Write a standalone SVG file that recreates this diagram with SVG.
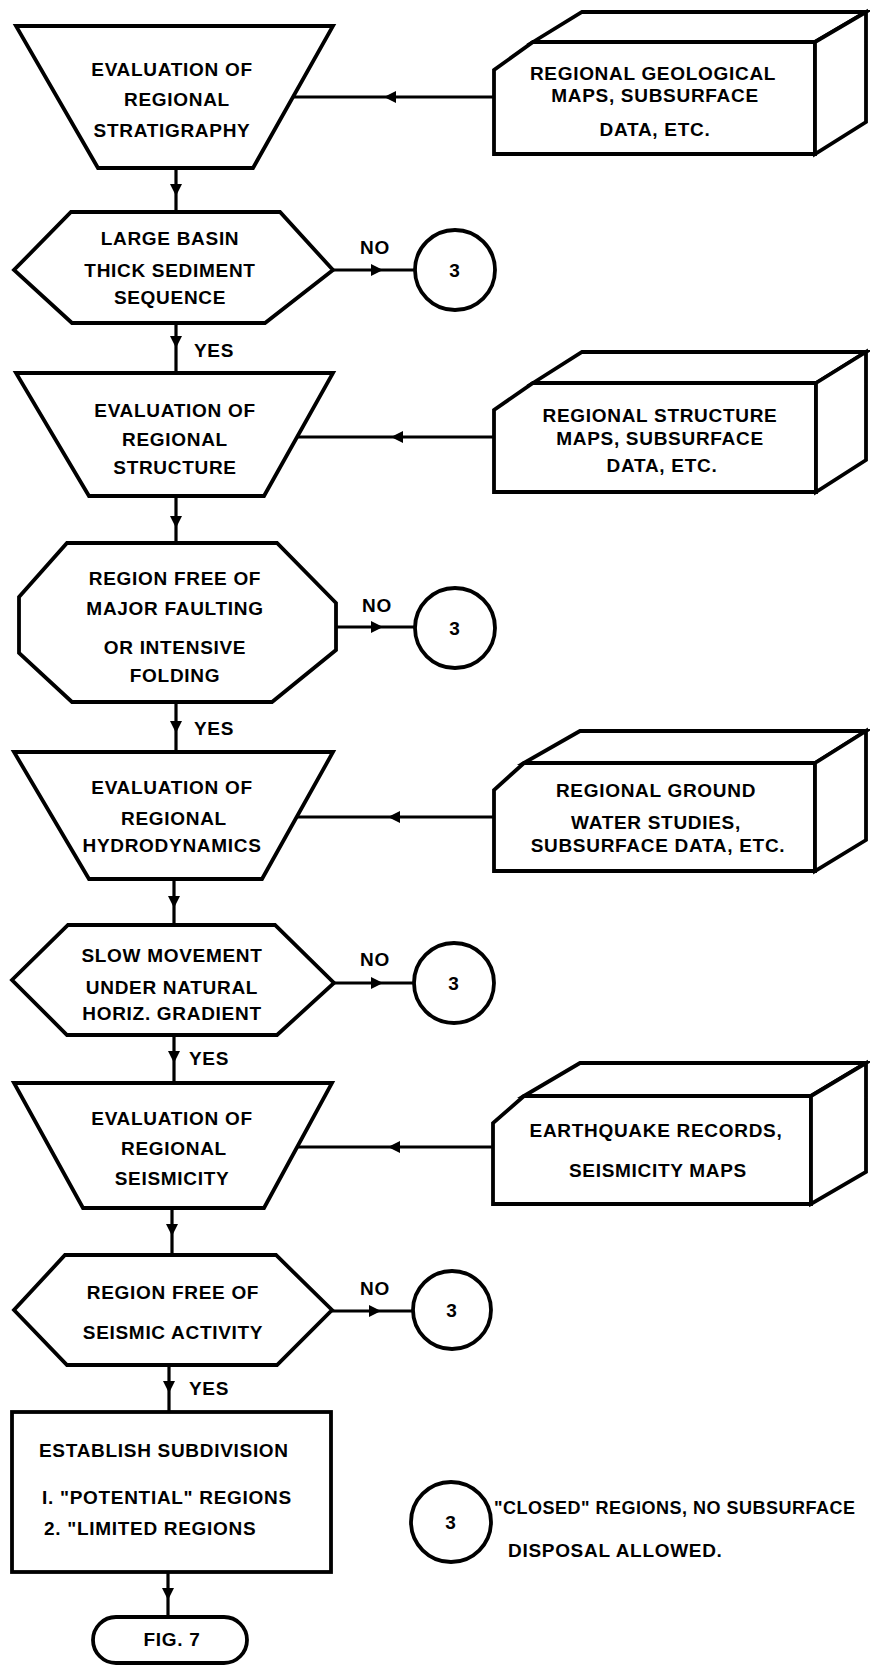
<svg xmlns="http://www.w3.org/2000/svg" width="870" height="1665" viewBox="0 0 870 1665">
<style>
.s{fill:#fff;stroke:#000;stroke-width:3.8;stroke-linejoin:miter}
.c{fill:none;stroke:#000;stroke-width:3.2;marker-mid:url(#ah)}
.t{font-family:"Liberation Sans",Arial,sans-serif;font-weight:bold;font-size:19px;letter-spacing:0.7px;fill:#000;text-anchor:middle}
.l{text-anchor:start}
</style>
<defs>
<marker id="ah" viewBox="0 0 10 10" refX="5" refY="5" markerUnits="userSpaceOnUse" markerWidth="12" markerHeight="12" orient="auto">
<path d="M0,0 L10,5 L0,10 z" fill="#000"/>
</marker>
</defs>
<rect width="870" height="1665" fill="#fff"/>
<g id="connectors">
<path class="c" d="M176,168 L176,190 L176,212"/>
<path class="c" d="M176,323 L176,342 L176,373"/>
<path class="c" d="M176,496 L176,522 L176,543"/>
<path class="c" d="M176,702 L176,727 L176,752"/>
<path class="c" d="M174,879 L174,902 L174,925"/>
<path class="c" d="M174,1035 L174,1057 L174,1083"/>
<path class="c" d="M172,1208 L172,1230 L172,1255"/>
<path class="c" d="M169,1365 L169,1387 L169,1412"/>
<path class="c" d="M168,1572 L168,1594 L168,1617"/>
<path class="c" d="M494,97 L390,97 L293,97"/>
<path class="c" d="M494,437 L397,437 L297,437"/>
<path class="c" d="M494,817 L394,817 L297,817"/>
<path class="c" d="M493,1147 L394,1147 L297,1147"/>
<path class="c" d="M333,270 L377,270 L415,270"/>
<path class="c" d="M336,627 L377,627 L415,627"/>
<path class="c" d="M334,983 L377,983 L414,983"/>
<path class="c" d="M332,1311 L375,1311 L413,1311"/>
</g>
<g id="eval-stratigraphy">
<polygon class="s" points="16,26 333,26 253,168 98,168"/>
<text class="t" x="172" y="76">EVALUATION OF</text>
<text class="t" x="177" y="106">REGIONAL</text>
<text class="t" x="172" y="137">STRATIGRAPHY</text>
</g>
<g id="geo-maps">
<polygon class="s" points="533,42 815,42 815,154 494,154 494,70"/>
<polygon class="s" points="533,42 582,12 866,12 815,42"/>
<polygon class="s" points="815,42 866,12 866,122 815,154"/>
<text class="t" x="653" y="80">REGIONAL GEOLOGICAL</text>
<text class="t" x="655" y="102">MAPS, SUBSURFACE</text>
<text class="t" x="655" y="136">DATA, ETC.</text>
</g>
<g id="large-basin">
<polygon class="s" points="71,212 280,212 333,270 265,323 72,323 14,270"/>
<text class="t" x="170" y="245">LARGE BASIN</text>
<text class="t" x="170" y="277">THICK SEDIMENT</text>
<text class="t" x="170" y="304">SEQUENCE</text>
<text class="t" x="375" y="254">NO</text>
<text class="t l" x="194" y="357">YES</text>
</g>
<g id="closed-1">
<circle class="s" cx="455" cy="270" r="40"/>
<text class="t" x="455" y="277">3</text>
</g>
<g id="eval-structure">
<polygon class="s" points="16,373 333,373 264,496 89,496"/>
<text class="t" x="175" y="417">EVALUATION OF</text>
<text class="t" x="175" y="446">REGIONAL</text>
<text class="t" x="175" y="474">STRUCTURE</text>
</g>
<g id="structure-maps">
<polygon class="s" points="533,383 816,383 816,492 494,492 494,410"/>
<polygon class="s" points="533,383 582,352 866,352 816,383"/>
<polygon class="s" points="816,383 866,352 866,460 816,492"/>
<text class="t" x="660" y="422">REGIONAL STRUCTURE</text>
<text class="t" x="660" y="445">MAPS, SUBSURFACE</text>
<text class="t" x="662" y="472">DATA, ETC.</text>
</g>
<g id="free-faulting">
<polygon class="s" points="67,543 277,543 336,603 336,650 272,702 72,702 19,653 19,597"/>
<text class="t" x="175" y="585">REGION FREE OF</text>
<text class="t" x="175" y="615">MAJOR FAULTING</text>
<text class="t" x="175" y="654">OR INTENSIVE</text>
<text class="t" x="175" y="682">FOLDING</text>
<text class="t" x="377" y="612">NO</text>
<text class="t l" x="194" y="735">YES</text>
</g>
<g id="closed-2">
<circle class="s" cx="455" cy="628" r="40"/>
<text class="t" x="455" y="635">3</text>
</g>
<g id="eval-hydro">
<polygon class="s" points="14,752 333,752 262,879 89,879"/>
<text class="t" x="172" y="794">EVALUATION OF</text>
<text class="t" x="174" y="825">REGIONAL</text>
<text class="t" x="172" y="852">HYDRODYNAMICS</text>
</g>
<g id="groundwater">
<polygon class="s" points="524,763 815,763 815,871 494,871 494,790"/>
<polygon class="s" points="524,763 580,731 866,731 815,763"/>
<polygon class="s" points="815,763 866,731 866,840 815,871"/>
<text class="t" x="656" y="797">REGIONAL GROUND</text>
<text class="t" x="656" y="829">WATER STUDIES,</text>
<text class="t" x="658" y="852">SUBSURFACE DATA, ETC.</text>
</g>
<g id="slow-movement">
<polygon class="s" points="68,925 275,925 334,983 277,1035 67,1035 12,980"/>
<text class="t" x="172" y="962">SLOW MOVEMENT</text>
<text class="t" x="172" y="994">UNDER NATURAL</text>
<text class="t" x="172" y="1020">HORIZ. GRADIENT</text>
<text class="t" x="375" y="966">NO</text>
<text class="t l" x="189" y="1065">YES</text>
</g>
<g id="closed-3">
<circle class="s" cx="454" cy="983" r="40"/>
<text class="t" x="454" y="990">3</text>
</g>
<g id="eval-seismicity">
<polygon class="s" points="14,1083 332,1083 264,1208 83,1208"/>
<text class="t" x="172" y="1125">EVALUATION OF</text>
<text class="t" x="174" y="1155">REGIONAL</text>
<text class="t" x="172" y="1185">SEISMICITY</text>
</g>
<g id="quake-records">
<polygon class="s" points="524,1096 811,1096 811,1204 493,1204 493,1123"/>
<polygon class="s" points="524,1096 580,1063 866,1063 811,1096"/>
<polygon class="s" points="811,1096 866,1063 866,1172 811,1204"/>
<text class="t" x="656" y="1137">EARTHQUAKE RECORDS,</text>
<text class="t" x="658" y="1177">SEISMICITY MAPS</text>
</g>
<g id="free-seismic">
<polygon class="s" points="65,1255 276,1255 332,1310 277,1365 67,1365 14,1310"/>
<text class="t" x="173" y="1299">REGION FREE OF</text>
<text class="t" x="173" y="1339">SEISMIC ACTIVITY</text>
<text class="t" x="375" y="1295">NO</text>
<text class="t l" x="189" y="1395">YES</text>
</g>
<g id="closed-4">
<circle class="s" cx="452" cy="1310" r="39"/>
<text class="t" x="452" y="1317">3</text>
</g>
<g id="subdivision">
<rect class="s" x="12" y="1412" width="319" height="160"/>
<text class="t l" x="39" y="1457">ESTABLISH SUBDIVISION</text>
<text class="t l" x="42" y="1504">I. "POTENTIAL" REGIONS</text>
<text class="t l" x="44" y="1535">2. "LIMITED REGIONS</text>
</g>
<g id="fig7">
<rect class="s" x="93" y="1617" width="154" height="46" rx="23"/>
<text class="t" x="172" y="1646">FIG. 7</text>
</g>
<g id="legend">
<circle class="s" cx="451" cy="1522" r="40"/>
<text class="t" x="451" y="1529">3</text>
<text class="t l" x="494" y="1514" style="letter-spacing:0.5px;font-size:18px">"CLOSED" REGIONS, NO SUBSURFACE</text>
<text class="t l" x="508" y="1557">DISPOSAL ALLOWED.</text>
</g>
</svg>
